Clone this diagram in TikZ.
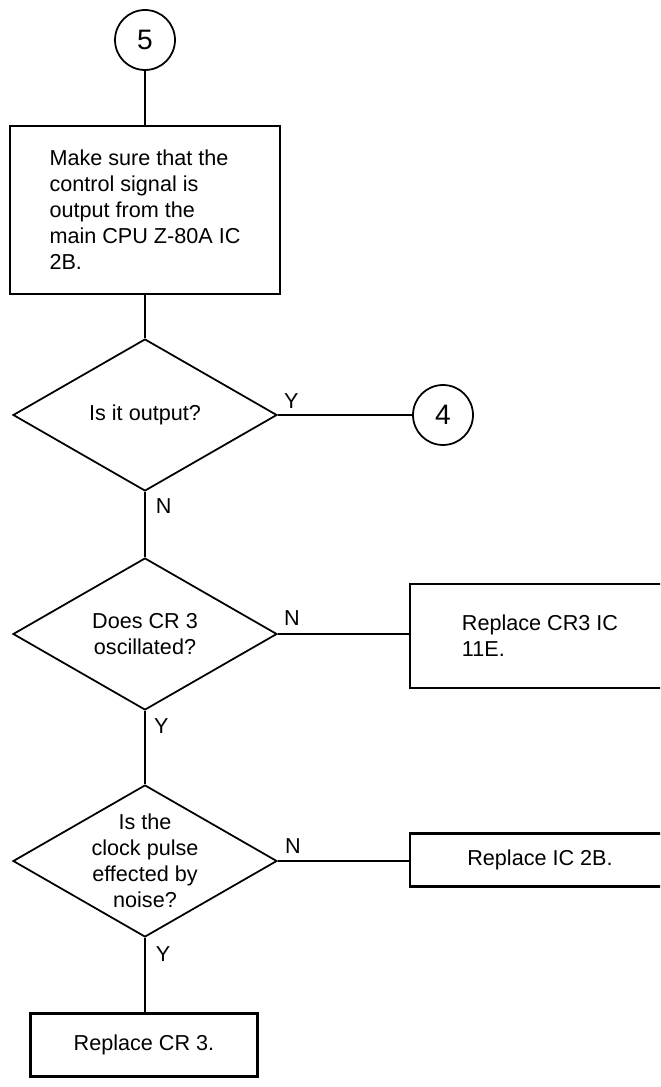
\documentclass[tikz,border=0pt]{standalone}
\usepackage{fontspec}
\setmainfont{Liberation Sans}
\usetikzlibrary{positioning,shapes.geometric}

\begin{document}
\begin{tikzpicture}[
  x=0.02cm, y=-0.02cm,
  every node/.style={font=\fontsize{12.3}{14.8}\selectfont},
  conn/.style={circle, draw, line width=1pt, minimum size=1.2cm, inner sep=0pt,
    font=\fontsize{16}{18}\selectfont},
  box/.style={rectangle, draw, line width=1.2pt, inner sep=0pt},
  query/.style={diamond, draw, line width=1pt, minimum width=5.28cm, minimum height=3.04cm, inner sep=0pt},
  flow/.style={line width=0.85pt},
  tag/.style={inner sep=0pt}
]
  \useasboundingbox (0,0) rectangle (660,1087);
  \clip (0,0) rectangle (660,1087);

  % --- entry connector and first check ---
  \node[conn] (c5) at (145,40) {5};
  \node[box, minimum width=5.4cm, minimum height=3.36cm, align=left] (check) at (145,210)
    {Make sure that the\\control signal is\\output from the\\main CPU Z-80A IC\\2B.};

  % --- decisions ---
  \node[query, label={[align=center]center:Is it output?}] (q1) at (145,415) {};
  \node[conn] (c4) at (443,415) {4};

  \node[query, label={[align=center]center:Does CR 3\\oscillated?}] (q2) at (145,634) {};
  \node[box, minimum width=5.2cm, minimum height=2.08cm, align=left] (r1) at (540,636)
    {Replace CR3 IC\\11E.};

  \node[query, label={[align=center]center:Is the\\clock pulse\\effected by\\noise?}] (q3) at (145,861) {};
  \node[box, minimum width=5.2cm, minimum height=1.06cm] (r2) at (540,860) {Replace IC 2B.};

  \node[box, minimum width=4.54cm, minimum height=1.26cm] (r3) at (144,1045) {Replace CR 3.};

  % --- connectors ---
  \draw[flow] (c5) -- (check);
  \draw[flow] (check.south) -- (q1.north);
  \draw[flow] (q1.east) -- (c4);
  \draw[flow] (q1.south) -- (q2.north);
  \draw[flow] (q2.east) -- (q2.east -| r1.west);
  \draw[flow] (q2.south) -- (q3.north);
  \draw[flow] (q3.east) -- (q3.east -| r2.west);
  \draw[flow] (q3.south) -- (q3.south |- r3.north);

  % --- Y / N tags ---
  \node[tag, above right=3.4pt and 3.4pt of q1.east] (y1) {Y};
  \node[tag, below right=3.4pt and 6pt of q1.south] (n1) {N};
  \node[tag, above right=4.5pt and 3.4pt of q2.east] (n2) {N};
  \node[tag, below right=4pt and 5pt of q2.south] (y2) {Y};
  \node[tag, above right=4pt and 4pt of q3.east] (n3) {N};
  \node[tag, below right=4.5pt and 6pt of q3.south] (y3) {Y};

\end{tikzpicture}
\end{document}
